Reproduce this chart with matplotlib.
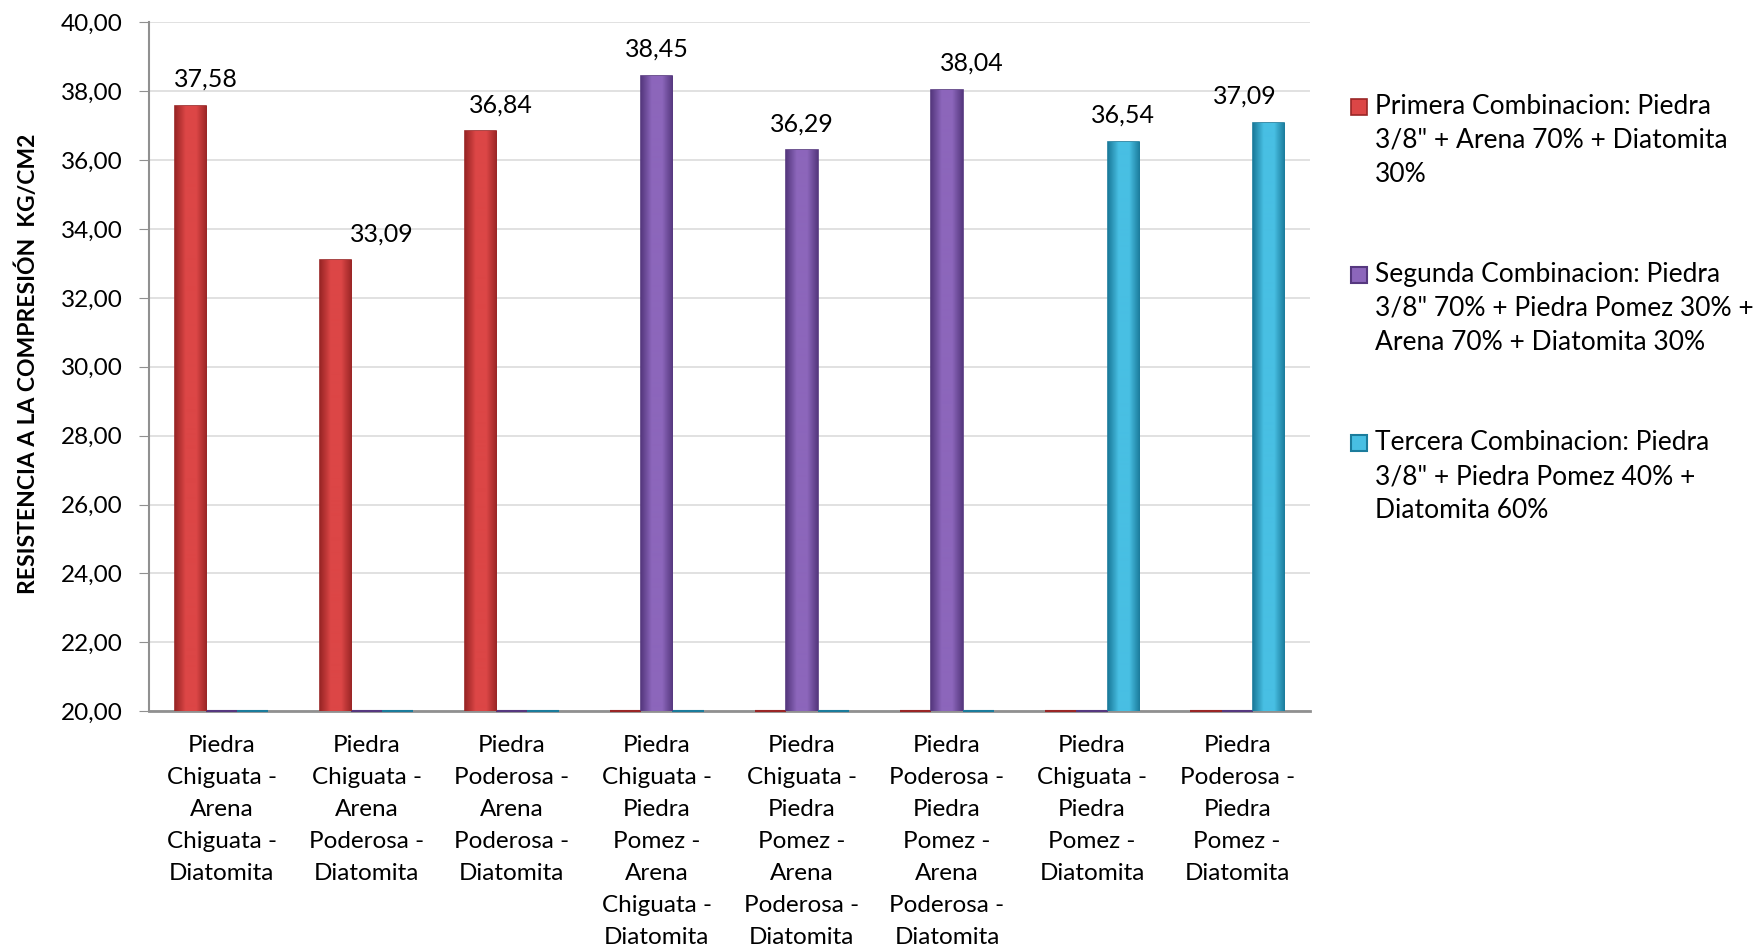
import matplotlib
matplotlib.use("Agg")
import matplotlib.pyplot as plt
import numpy as np
from matplotlib.colors import LinearSegmentedColormap
from matplotlib.container import BarContainer
from matplotlib.legend_handler import HandlerPatch, update_from_first_child
from matplotlib.patches import Rectangle
from matplotlib.ticker import FuncFormatter

plt.rcParams['font.family'] = ['Lato', 'DejaVu Sans']

# datos
categorias = [
    "Piedra\nChiguata -\nArena\nChiguata -\nDiatomita",
    "Piedra\nChiguata -\nArena\nPoderosa -\nDiatomita",
    "Piedra\nPoderosa -\nArena\nPoderosa -\nDiatomita",
    "Piedra\nChiguata -\nPiedra\nPomez -\nArena\nChiguata -\nDiatomita",
    "Piedra\nChiguata -\nPiedra\nPomez -\nArena\nPoderosa -\nDiatomita",
    "Piedra\nPoderosa -\nPiedra\nPomez -\nArena\nPoderosa -\nDiatomita",
    "Piedra\nChiguata -\nPiedra\nPomez -\nDiatomita",
    "Piedra\nPoderosa -\nPiedra\nPomez -\nDiatomita",
]
primera = [37.58, 33.09, 36.84, 0, 0, 0, 0, 0]
segunda = [0, 0, 0, 38.45, 36.29, 38.04, 0, 0]
tercera = [0, 0, 0, 0, 0, 0, 36.54, 37.09]
series_nombres = [
    'Primera Combinacion: Piedra\n3/8" + Arena 70% + Diatomita\n30%',
    'Segunda Combinacion: Piedra\n3/8" 70% + Piedra Pomez 30% +\nArena 70% + Diatomita 30%',
    'Tercera Combinacion: Piedra\n3/8" + Piedra Pomez 40% +\nDiatomita 60%',
]

# estilo
colores = [('#9a2626', '#dc4646'), ('#56387f', '#8c66bb'), ('#1b7c9c', '#48bfe3')]
# desplazamiento horizontal de las etiquetas (pixeles), como en el original
label_dx = [[15, 46, 20, 0, 0, 0, 0, 0],
            [0, 0, 0, 0, 0, 25, 0, 0],
            [0, 0, 0, 0, 0, 0, 0, -24]]
base = 20.0
width = 0.215

fig = plt.figure(figsize=(17.58, 9.52), dpi=100)
ax = fig.add_axes([0.0848, 0.253, 0.6602, 0.7235])

x = np.arange(len(categorias))
valores = [primera, segunda, tercera]

for i, (vals, (dark, light)) in enumerate(zip(valores, colores)):
    vals = np.array(vals, dtype=float)
    alturas = np.where(vals > 0, vals - base, 0)
    pos = x + (i - 1) * width
    rects = ax.bar(pos, alturas, width, bottom=base, color=light,
                   edgecolor=dark, linewidth=1.2, label=series_nombres[i], zorder=3)
    cmap = LinearSegmentedColormap.from_list('g', [dark, light, light, dark])
    grad = np.linspace(0, 1, 64).reshape(1, -1)
    for r, v in zip(rects, vals):
        if v > 0:
            x0, y0 = r.get_x(), r.get_y()
            im = ax.imshow(grad, cmap=cmap, aspect='auto', zorder=3.5,
                           extent=(x0, x0 + r.get_width(), y0, y0 + r.get_height()))
            im.set_clip_path(r)
        else:
            r.set_clip_on(False)
            r.set_linewidth(1.5)
    for j, (r, v) in enumerate(zip(rects, vals)):
        if v > 0:
            ax.annotate(f"{v:.2f}".replace('.', ','),
                        (r.get_x() + r.get_width() / 2, v),
                        xytext=(label_dx[i][j], 15), textcoords='offset pixels',
                        ha='center', va='bottom', fontsize=18)

ax.set_xlim(-0.5, len(categorias) - 0.5)
ax.set_ylim(20, 40)
ax.set_yticks(np.arange(20, 40.1, 2))
ax.yaxis.set_major_formatter(FuncFormatter(lambda v, p: f"{v:.2f}".replace('.', ',')))
ax.set_xticks(x)
ax.set_xticklabels(categorias, fontsize=17.5, va='top')
for t in ax.get_xticklabels():
    t.set_linespacing(1.65)
ax.tick_params(axis='x', length=0, pad=17)
ax.tick_params(axis='y', labelsize=17.5, length=7, color='#909090', pad=12)
ax.grid(axis='y', color='#dcdcdc', linewidth=1.2, zorder=0)
for s in ['top', 'right']:
    ax.spines[s].set_visible(False)
ax.spines['left'].set_color('#909090')
ax.spines['bottom'].set_color('#909090')
ax.spines['left'].set_linewidth(1.5)
ax.spines['bottom'].set_linewidth(2)
ax.set_ylabel('RESISTENCIA A LA COMPRESIÓN  KG/CM2', fontsize=16.5, fontweight='bold')
ax.yaxis.set_label_coords(-0.095, 0.505)


# cuadradito de la leyenda alineado con la primera linea del texto
def cuadro(legend, orig_handle, xdescent, ydescent, width, height, fontsize):
    s = 0.6 * fontsize
    return Rectangle((-xdescent, 1.3 * fontsize + 0.04 * fontsize), s, s)


leg = ax.legend(loc='upper left', bbox_to_anchor=(0.7685, 0.9015), bbox_transform=fig.transFigure,
                frameon=False, fontsize=19, handlelength=0.6, handleheight=0.7,
                handletextpad=0.3, labelspacing=2.85, borderaxespad=0, borderpad=0,
                handler_map={BarContainer: HandlerPatch(patch_func=cuadro,
                                                        update_func=update_from_first_child)})
for t in leg.get_texts():
    t.set_linespacing(1.45)

fig.savefig('out.png', dpi=100)
